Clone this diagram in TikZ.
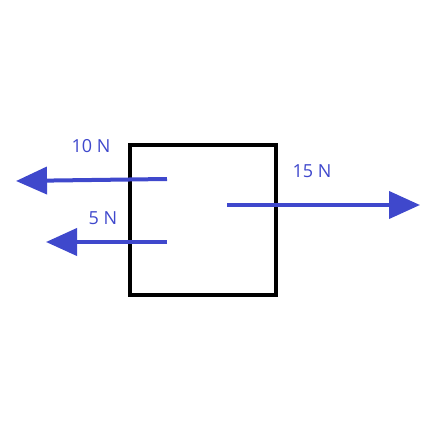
\documentclass[tikz,border=0pt]{standalone}
\usepackage{fontspec}
\setmainfont{Open Sans}
\usetikzlibrary{arrows.meta}
\definecolor{fblue}{HTML}{3F48CC}
\begin{document}
\begin{tikzpicture}[x=1pt,y=-1pt,
  force/.style={draw=fblue,line width=4pt,-{Triangle[length=31pt,width=27pt]}},
  lbl/.style={text=fblue,font=\fontsize{18}{20}\selectfont,inner sep=0pt}]
\useasboundingbox (0,0) rectangle (425,425);
\draw[line width=4pt] (130,145) rectangle (275.5,295);
\coordinate (a1) at (167,179);
\coordinate (a2) at (16,181);
\coordinate (b1) at (167,242);
\coordinate (b2) at (46,242);
\coordinate (c1) at (227,205);
\coordinate (c2) at (420,205);
\draw[force] (a1) -- (a2);
\draw[force] (b1) -- (b2);
\draw[force] (c1) -- (c2);
\node[lbl] (l10) at (91,146) {10 N};
\node[lbl] (l5) at (103,218) {5 N};
\node[lbl] (l15) at (312,171) {15 N};
\end{tikzpicture}
\end{document}
